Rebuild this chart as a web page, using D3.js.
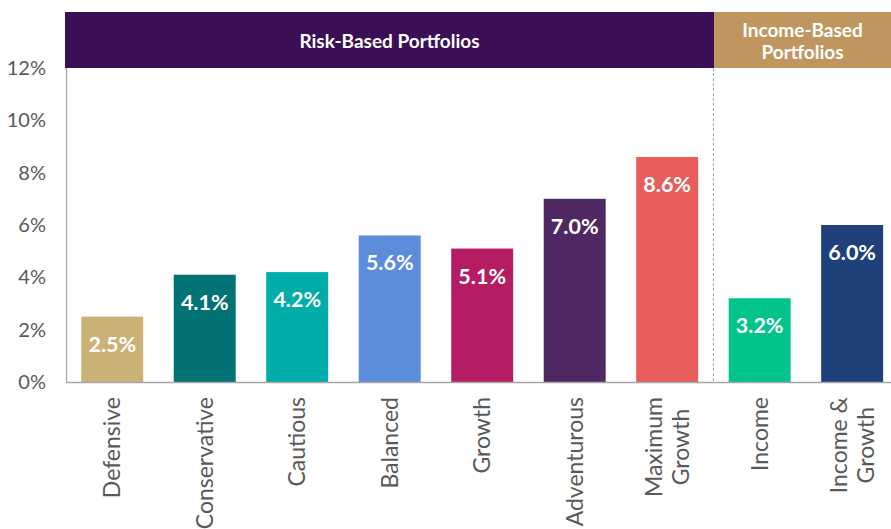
<!DOCTYPE html>
<html>
<head>
<meta charset="utf-8">
<script src="https://cdn.jsdelivr.net/npm/d3@7"></script>
<style>
  body { margin: 0; background: #fff; }
  svg { display: block; font-family: Lato, "Open Sans", sans-serif; }
</style>
</head>
<body>
<svg width="891" height="529"></svg>
<script>
var categories = ['Defensive', 'Conservative', 'Cautious', 'Balanced', 'Growth',
                  'Adventurous', 'Maximum\nGrowth', 'Income', 'Income &\nGrowth'];
var values = [2.5, 4.1, 4.2, 5.6, 5.1, 7.0, 8.6, 3.2, 6.0];
var colors = ['#C9B274', '#027275', '#00ADA8', '#5B8DDB', '#B51C64',
              '#4F2762', '#E85C5A', '#00C48A', '#1F407A'];
var yTicks = [0, 2, 4, 6, 8, 10, 12];
var groups = [
  { name: 'Risk-Based Portfolios', lines: ['Risk-Based Portfolios'], x0: 65, x1: 714, color: '#3B0F55' },
  { name: 'Income-Based Portfolios', lines: ['Income-Based', 'Portfolios'], x0: 714, x1: 891, color: '#BF975E' }
];

var svg = d3.select('svg');

var x = d3.scaleBand()
          .domain(categories)
          .range([66, 898.4])
          .paddingInner(0.33)
          .paddingOuter(0.165);

var y = d3.scaleLinear()
          .domain([0, 12])
          .range([382, 68]);

// header bands
var hdr = svg.selectAll('g.hdr')
  .data(groups)
  .enter()
  .append('g')
    .attr('class', 'hdr');

hdr.append('rect')
  .attr('x', d => d.x0)
  .attr('y', 12)
  .attr('width', d => d.x1 - d.x0)
  .attr('height', 56)
  .attr('fill', d => d.color);

hdr.each(function(d) {
  var g = d3.select(this);
  var n = d.lines.length;
  d.lines.forEach((t, i) => {
    g.append('text')
      .attr('x', (d.x0 + d.x1) / 2)
      .attr('y', 41 + (i - (n - 1) / 2) * 22)
      .attr('dy', '0.35em')
      .attr('text-anchor', 'middle')
      .attr('fill', '#fff')
      .attr('font-weight', 'bold')
      .attr('font-size', 19)
      .text(t);
  });
});

// y axis labels
svg.selectAll('text.ytick')
  .data(yTicks)
  .enter()
  .append('text')
    .attr('class', 'ytick')
    .attr('x', 46)
    .attr('y', d => y(d))
    .attr('dy', '0.35em')
    .attr('text-anchor', 'end')
    .attr('fill', '#595959')
    .attr('font-size', 20)
    .text(d => d + '%');

// bars
svg.selectAll('rect.bar')
  .data(values)
  .enter()
  .append('rect')
    .attr('class', 'bar')
    .attr('x', (d, i) => x(categories[i]))
    .attr('y', d => y(d))
    .attr('width', x.bandwidth())
    .attr('height', d => y(0) - y(d))
    .attr('fill', (d, i) => colors[i]);

svg.selectAll('text.val')
  .data(values)
  .enter()
  .append('text')
    .attr('class', 'val')
    .attr('x', (d, i) => x(categories[i]) + x.bandwidth() / 2)
    .attr('y', d => y(d) + 35)
    .attr('text-anchor', 'middle')
    .attr('fill', '#fff')
    .attr('font-weight', 'bold')
    .attr('font-size', 21.5)
    .text(d => d.toFixed(1) + '%');

// axis lines
svg.append('line')
  .attr('x1', 66.5).attr('x2', 66.5)
  .attr('y1', 68).attr('y2', 382)
  .attr('stroke', '#A6A6A6')
  .attr('stroke-width', 1.2);

svg.append('line')
  .attr('x1', 66).attr('x2', 891)
  .attr('y1', 382.5).attr('y2', 382.5)
  .attr('stroke', '#A6A6A6')
  .attr('stroke-width', 1.5);

// divider between groups
var divX = (x('Maximum\nGrowth') + x.bandwidth() + x('Income')) / 2;
svg.append('line')
  .attr('x1', divX).attr('x2', divX)
  .attr('y1', 68).attr('y2', 382)
  .attr('stroke', '#A6A6A6')
  .attr('stroke-width', 1)
  .attr('stroke-dasharray', '3,2');

// category labels, rotated
var lab = svg.selectAll('g.cat')
  .data(categories)
  .enter()
  .append('g')
    .attr('class', 'cat')
    .attr('transform', d => 'translate(' + (x(d) + x.bandwidth() / 2) + ',397) rotate(-90)');

lab.each(function(d) {
  var g = d3.select(this);
  var lines = d.split('\n');
  var n = lines.length;
  var texts = lines.map((t, i) => g.append('text')
    .attr('y', (i - (n - 1) / 2) * 27)
    .attr('dy', '0.35em')
    .attr('text-anchor', 'middle')
    .attr('fill', '#595959')
    .attr('font-size', 23)
    .text(t));
  var maxLen = d3.max(texts, t => t.node().getComputedTextLength());
  texts.forEach(t => t.attr('x', -maxLen / 2));
});
</script>
</body>
</html>
